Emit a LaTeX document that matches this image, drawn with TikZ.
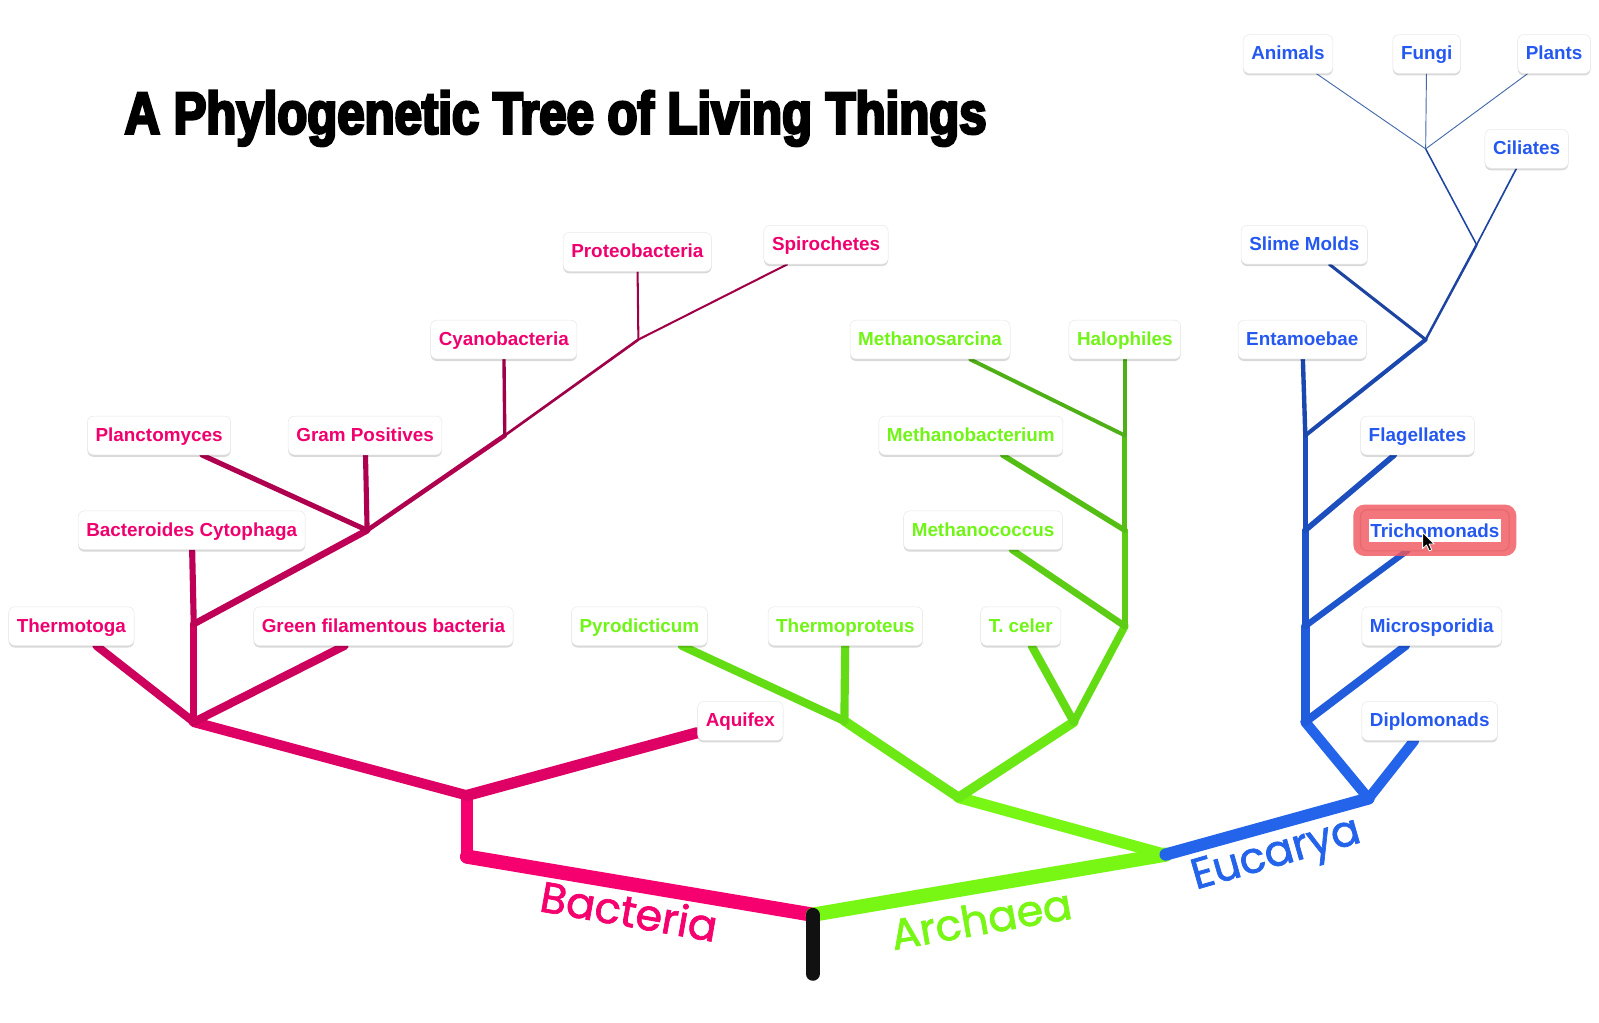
\documentclass[tikz,border=0pt]{standalone}
\usepackage{fontspec}
\usetikzlibrary{calc,shadows}
\newfontfamily\lblfamily{Liberation Sans}
\newfontfamily\cladefamily{Poppins}[FakeBold=1.6]
\newfontfamily\titlefamily{Liberation Sans}[FakeStretch=0.83,FakeBold=4.5]
\newcommand\lblfont{\lblfamily\bfseries\fontsize{18.5}{21}\selectfont}
\definecolor{bactext}{RGB}{240,0,110}
\definecolor{arctext}{RGB}{112,245,22}
\definecolor{euctext}{RGB}{36,88,240}
\definecolor{bac1}{RGB}{245,0,110}
\definecolor{bac2}{RGB}{222,0,100}
\definecolor{bac3}{RGB}{206,0,94}
\definecolor{bac4}{RGB}{190,0,86}
\definecolor{bac5}{RGB}{174,0,78}
\definecolor{bac6}{RGB}{160,0,72}
\definecolor{arc1}{RGB}{120,246,20}
\definecolor{arc2}{RGB}{108,232,20}
\definecolor{arc3}{RGB}{100,220,20}
\definecolor{arc4}{RGB}{92,205,20}
\definecolor{arc5}{RGB}{85,190,20}
\definecolor{arc6}{RGB}{78,175,22}
\definecolor{euc1}{RGB}{36,100,235}
\definecolor{euc2}{RGB}{33,92,220}
\definecolor{euc3}{RGB}{30,85,205}
\definecolor{euc4}{RGB}{28,78,190}
\definecolor{euc5}{RGB}{26,72,175}
\definecolor{euc6}{RGB}{28,68,160}
\definecolor{euc7}{RGB}{70,105,170}
\definecolor{rootcol}{RGB}{17,17,17}
\definecolor{ringred}{RGB}{240,88,94}
\pgfdeclarelayer{bg}
\pgfdeclarelayer{ring}
\pgfsetlayers{bg,ring,main}
\tikzset{
  lbl/.style={fill=white, draw=black!9, line width=0.5pt, rounded corners=6pt,
    inner xsep=8pt, inner ysep=0pt, minimum height=38pt, text height=15pt, text depth=3.5pt, font=\lblfont,
    drop shadow={shadow xshift=0pt, shadow yshift=-2pt, opacity=0.15, fill=black}},
  blbl/.style={lbl, text=bactext},
  albl/.style={lbl, text=arctext},
  elbl/.style={lbl, text=euctext},
  br/.style={line cap=round, line join=round},
  clade/.style={font=\cladefamily\fontsize{42}{46}\selectfont, inner sep=0pt},
}
\begin{document}
\begin{tikzpicture}[x=1pt,y=-1pt]
\begin{pgfonlayer}{bg}
\path[use as bounding box, fill=white] (0,0) rectangle (1568,1003);
\end{pgfonlayer}

% junction coordinates
\coordinate (R) at (797,897);
\coordinate (Rbot) at (797,955);
\coordinate (B1) at (458,840);
\coordinate (B2) at (458,780);
\coordinate (B3) at (190,708);
\coordinate (B4) at (190,612);
\coordinate (B5) at (360,520);
\coordinate (B6) at (495,427);
\coordinate (B7) at (626,333);
\coordinate (A1) at (1143,838);
\coordinate (A2) at (940,782);
\coordinate (A3) at (828,707);
\coordinate (A4) at (1053,708);
\coordinate (A5) at (1103,614);
\coordinate (A6) at (1103,520);
\coordinate (A7) at (1103,427);
\coordinate (E1) at (1342,783);
\coordinate (E2) at (1280,708);
\coordinate (E3) at (1280,614);
\coordinate (E4) at (1280,520);
\coordinate (E5) at (1280,427);
\coordinate (E6) at (1398,333);
\coordinate (E7) at (1448,240);
\coordinate (E8) at (1398,146);

% title
\node[anchor=base west, inner sep=0pt, font=\titlefamily\bfseries\fontsize{58}{62}\selectfont] (title) at (122,131) {A Phylogenetic Tree of Living Things};

% Bacteria labels
\node[blbl] (thermotoga) at (70,614) {Thermotoga};
\node[blbl] (greenfil) at (376,614) {Green filamentous bacteria};
\node[blbl] (bacteroides) at (188,520) {Bacteroides Cytophaga};
\node[blbl] (plancto) at (156,427) {Planctomyces};
\node[blbl] (grampos) at (358,427) {Gram Positives};
\node[blbl] (cyano) at (494,333) {Cyanobacteria};
\node[blbl] (proteo) at (625,247) {Proteobacteria};
\node[blbl] (spiro) at (810,240) {Spirochetes};
\node[blbl] (aquifex) at (726,707) {Aquifex};

% Archaea labels
\node[albl] (pyro) at (627,614) {Pyrodicticum};
\node[albl] (thermoprot) at (829,614) {Thermoproteus};
\node[albl] (tceler) at (1001,614) {T. celer};
\node[albl] (methcoccus) at (964,520) {Methanococcus};
\node[albl] (methbact) at (952,427) {Methanobacterium};
\node[albl] (methsarc) at (912,333) {Methanosarcina};
\node[albl] (halo) at (1103,333) {Halophiles};

% Eucarya labels
\node[elbl] (diplo) at (1402,707) {Diplomonads};
\node[elbl] (micro) at (1404,614) {Microsporidia};
\node[elbl] (flag) at (1390,427) {Flagellates};
\node[elbl] (entam) at (1277,333) {Entamoebae};
\node[elbl] (slime) at (1279,240) {Slime Molds};
\node[elbl] (ciliates) at (1497,146) {Ciliates};
\node[elbl] (animals) at (1263,53) {Animals};
\node[elbl] (fungi) at (1399,53) {Fungi};
\node[elbl] (plants) at (1524,53) {Plants};
% highlighted (selected) label
\node[font=\lblfont, text=euctext, fill=white, inner xsep=1.5pt, inner ysep=0pt, minimum height=22pt] (trich) at (1407,520) {Trichomonads};
\coordinate (trichtip) at ($(E3)!0.79!(trich.center)$);

\begin{pgfonlayer}{ring}
  \fill[white, rounded corners=6pt] ($(trich.south west)+(-8,9)$) rectangle ($(trich.north east)+(8,-9)$);
  \fill[ringred, fill opacity=0.82, rounded corners=11pt] ($(trich.south west)+(-15,14)$) rectangle ($(trich.north east)+(15,-14)$);
  \draw[ringred!80!black, draw opacity=0.25, line width=1.2pt, rounded corners=7pt] ($(trich.south west)+(-8,9)$) rectangle ($(trich.north east)+(8,-9)$);
\end{pgfonlayer}

\begin{pgfonlayer}{bg}
  % Bacteria
  \draw[br, bac1, line width=14] (R) -- (B1);
  \draw[br, bac1, line width=11] (B1) -- (B2);
  \draw[br, bac2, line width=11] (B2) -- (aquifex);
  \draw[br, bac2, line width=10] (B2) -- (B3);
  \draw[br, bac3, line width=8] (B3) -- (thermotoga);
  \draw[br, bac3, line width=8] (B3) -- (greenfil);
  \draw[br, bac3, line width=7] (B3) -- (B4);
  \draw[br, bac4, line width=6] (B4) -- (bacteroides);
  \draw[br, bac4, line width=6.5] (B4) -- (B5);
  \draw[br, bac5, line width=5] (B5) -- (plancto);
  \draw[br, bac5, line width=5] (B5) -- (grampos);
  \draw[br, bac5, line width=4.5] (B5) -- (B6);
  \draw[br, bac6, line width=3.3] (B6) -- (cyano);
  \draw[br, bac6, line width=2.6] (B6) -- (B7);
  \draw[br, bac6, line width=2] (B7) -- (proteo);
  \draw[br, bac6, line width=2] (B7) -- (spiro);
  % Archaea
  \draw[br, arc1, line width=14] (R) -- (A1);
  \draw[br, arc1, line width=11] (A1) -- (A2);
  \draw[br, arc2, line width=9.5] (A2) -- (A3);
  \draw[br, arc2, line width=9.5] (A2) -- (A4);
  \draw[br, arc3, line width=8] (A3) -- (pyro);
  \draw[br, arc3, line width=8] (A3) -- (thermoprot);
  \draw[br, arc3, line width=8] (A4) -- (tceler);
  \draw[br, arc3, line width=7.5] (A4) -- (A5);
  \draw[br, arc4, line width=6.5] (A5) -- (methcoccus);
  \draw[br, arc4, line width=6] (A5) -- (A6);
  \draw[br, arc5, line width=5.3] (A6) -- (methbact);
  \draw[br, arc5, line width=4.6] (A6) -- (A7);
  \draw[br, arc6, line width=3.8] (A7) -- (methsarc);
  \draw[br, arc6, line width=3.8] (A7) -- (halo);
  % Eucarya
  \draw[br, euc1, line width=12] (A1) -- (E1);
  \draw[br, euc1, line width=10] (E1) -- (diplo);
  \draw[br, euc1, line width=10] (E1) -- (E2);
  \draw[br, euc2, line width=8] (E2) -- (micro);
  \draw[br, euc2, line width=8.5] (E2) -- (E3);
  \draw[br, euc3, line width=6] (E3) -- (trichtip);
  \draw[br, euc3, line width=6.5] (E3) -- (E4);
  \draw[br, euc4, line width=5.5] (E4) -- (flag);
  \draw[br, euc4, line width=5.5] (E4) -- (E5);
  \draw[br, euc5, line width=4.3] (E5) -- (entam);
  \draw[br, euc5, line width=4] (E5) -- (E6);
  \draw[br, euc6, line width=3] (E6) -- (slime);
  \draw[br, euc6, line width=2.4] (E6) -- (E7);
  \draw[br, euc6, line width=1.6] (E7) -- (ciliates);
  \draw[br, euc6, line width=1.5] (E7) -- (E8);
  \draw[br, euc7, line width=0.9] (E8) -- (animals);
  \draw[br, euc7, line width=0.9] (E8) -- (fungi);
  \draw[br, euc7, line width=0.9] (E8) -- (plants);
\end{pgfonlayer}

% root
\draw[line cap=round, rootcol, line width=13.5] (R) -- (Rbot);

% clade names
\node[clade, text=bac1, rotate=-10] (bacname) at (617,893) {Bacteria};
\node[clade, text=arc1, rotate=10] (arcname) at (962,901) {Archaea};
\node[clade, text=euc1, rotate=16] (eucname) at (1252,840) {Eucarya};

% mouse pointer
\begin{scope}[shift={(1395,522)}]
  \filldraw[black, draw=white, line width=0.8pt, line join=round]
    (0,0) -- (0,16) -- (3.8,12.4) -- (6.6,18.2) -- (9,17.1) -- (6.3,11.5) -- (11.4,11.5) -- cycle;
\end{scope}
\end{tikzpicture}
\end{document}
